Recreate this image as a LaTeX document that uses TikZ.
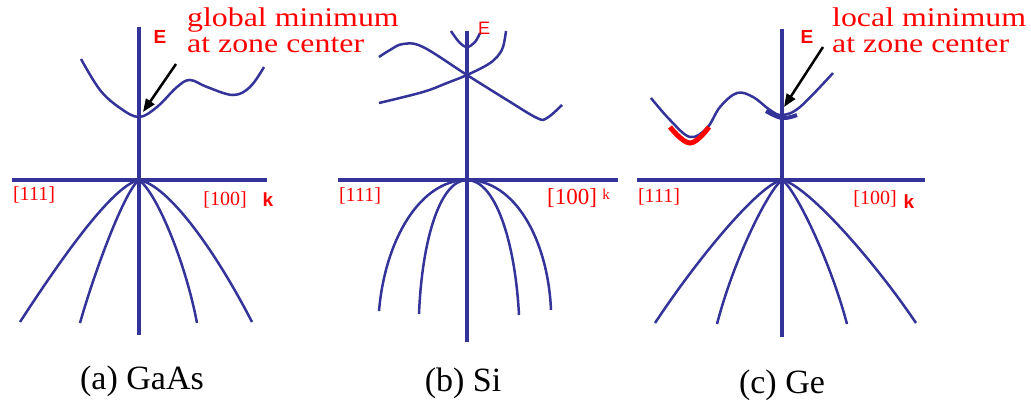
\documentclass[tikz,border=0pt]{standalone}
\usepackage{fontspec}
\setmainfont{Liberation Serif}
\setsansfont{Liberation Sans}
\newfontfamily\notefont[FakeStretch=1.18]{Liberation Serif}
\usetikzlibrary{arrows.meta}
\definecolor{bandblue}{RGB}{51,51,153}
\begin{document}
\begin{tikzpicture}[x=1pt, y=-1pt,
    bandaxis/.style={bandblue, line width=3.2pt},
    band/.style={bandblue, line width=2.5pt},
    dirlabel/.style={red, font=\fontsize{20}{20}\selectfont, inner sep=0pt},
    elabel/.style={red, font=\fontsize{19}{19}\selectfont\sffamily\bfseries, inner sep=0pt},
    notetext/.style={red, font=\notefont\fontsize{27}{26}\selectfont, align=left, inner sep=0pt, anchor=north west},
    caption/.style={font=\fontsize{34}{34}\selectfont, inner sep=0pt},
    pointer/.style={-{Triangle[length=13pt,width=10pt]}, line width=2.5pt}]
    \useasboundingbox (0,0) rectangle (1031,406);

    % (a) GaAs
    \coordinate (ga-o) at (139,180);
    \coordinate (ga-top) at (139,27);
    \coordinate (ga-bot) at (139,335);
    \coordinate (ga-left) at (12,180);
    \coordinate (ga-right) at (267,180);
    \draw[bandaxis] (ga-top) -- (ga-bot);
    \draw[bandaxis] (ga-left) -- (ga-right);
    \draw[band] plot[smooth, tension=0.6] coordinates {(81,59) (100,90) (120,108) (139,117) (157,107) (177,87) (190,80) (207,87) (233,95) (250,87) (264,67)};
    \draw[band] (ga-o) .. controls (115,185) and (70,245) .. (20,322);
    \draw[band] (ga-o) .. controls (125,190) and (95,270) .. (80,323);
    \draw[band] (ga-o) .. controls (156,192) and (185,260) .. (197,323);
    \draw[band] (ga-o) .. controls (168,185) and (215,250) .. (252,322);
    \node[elabel] (ga-e) at (160,37) {E};
    \node[dirlabel] (ga-111) at (34,195) {[111]};
    \node[dirlabel] (ga-100) at (225,200) {[100]};
    \node[elabel] (ga-k) at (268,200) {k};
    \node[notetext] (ga-note) at (187,8) {global minimum\\at zone center};
    \coordinate (ga-tail) at (176,64);
    \coordinate (ga-min) at (143,112);
    \draw[pointer] (ga-tail) -- (ga-min);
    \node[caption] (ga-cap) at (142,381) {(a) GaAs};

    % (b) Si
    \coordinate (si-o) at (467,180);
    \coordinate (si-top) at (467,31);
    \coordinate (si-bot) at (467,342);
    \coordinate (si-left) at (338,180);
    \coordinate (si-right) at (618,180);
    \draw[bandaxis] (si-top) -- (si-bot);
    \draw[bandaxis] (si-left) -- (si-right);
    \draw[band] plot[smooth, tension=0.6] coordinates {(451,31) (459,42) (467,47) (475,42) (480,33)};
    \draw[band] plot[smooth, tension=0.6] coordinates {(506,31) (503,47) (497,57) (487,65) (467,75) (447,83) (423,92) (379,103)};
    \draw[band] plot[smooth, tension=0.6] coordinates {(379,57) (390,50) (403,44) (423,47) (467,75) (507,100) (537,118) (547,118) (562,105)};
    \draw[band] (si-o) .. controls (420,180) and (385,240) .. (379,311);
    \draw[band] (si-o) .. controls (440,180) and (422,240) .. (419,314);
    \draw[band] (si-o) .. controls (495,180) and (515,240) .. (519,315);
    \draw[band] (si-o) .. controls (515,180) and (548,240) .. (551,310);
    \node[red, inner sep=0pt, font=\fontsize{18}{18}\selectfont\sffamily] (si-e) at (484,28) {E};
    \node[dirlabel] (si-111) at (360,196) {[111]};
    \node[dirlabel, font=\fontsize{23}{23}\selectfont] (si-100) at (572,198) {[100]};
    \node[red, inner sep=0pt, font=\fontsize{15}{15}\selectfont] (si-k) at (606,194) {k};
    \node[caption] (si-cap) at (463,383) {(b) Si};

    % (c) Ge
    \coordinate (ge-o) at (782,180);
    \coordinate (ge-top) at (782,29);
    \coordinate (ge-bot) at (782,337);
    \coordinate (ge-left) at (637,180);
    \coordinate (ge-right) at (925,180);
    \draw[bandaxis] (ge-top) -- (ge-bot);
    \draw[bandaxis] (ge-left) -- (ge-right);
    \draw[band] plot[smooth, tension=0.6] coordinates {(651,98) (670,120) (690,137) (707,128) (720,107) (737,93) (753,97) (770,110) (782,115) (800,107) (833,73)};
    \draw[red, line width=5pt] plot[smooth, tension=0.7] coordinates {(670,127) (690,143) (709,127)};
    \draw[bandblue, line width=4pt] plot[smooth, tension=0.7] coordinates {(766,111) (782,118) (797,115)};
    \draw[band] (ge-o) .. controls (760,184) and (700,255) .. (655,323);
    \draw[band] (ge-o) .. controls (770,188) and (735,255) .. (717,324);
    \draw[band] (ge-o) .. controls (795,188) and (830,260) .. (847,324);
    \draw[band] (ge-o) .. controls (805,184) and (870,255) .. (916,323);
    \node[elabel] (ge-e) at (807,37) {E};
    \node[dirlabel] (ge-111) at (659,197) {[111]};
    \node[dirlabel] (ge-100) at (875,199) {[100]};
    \node[elabel] (ge-k) at (909,202) {k};
    \node[notetext] (ge-note) at (832,8) {local minimum\\at zone center};
    \coordinate (ge-tail) at (823,47);
    \coordinate (ge-min) at (784,107);
    \draw[pointer] (ge-tail) -- (ge-min);
    \node[caption] (ge-cap) at (782,385) {(c) Ge};
\end{tikzpicture}
\end{document}
